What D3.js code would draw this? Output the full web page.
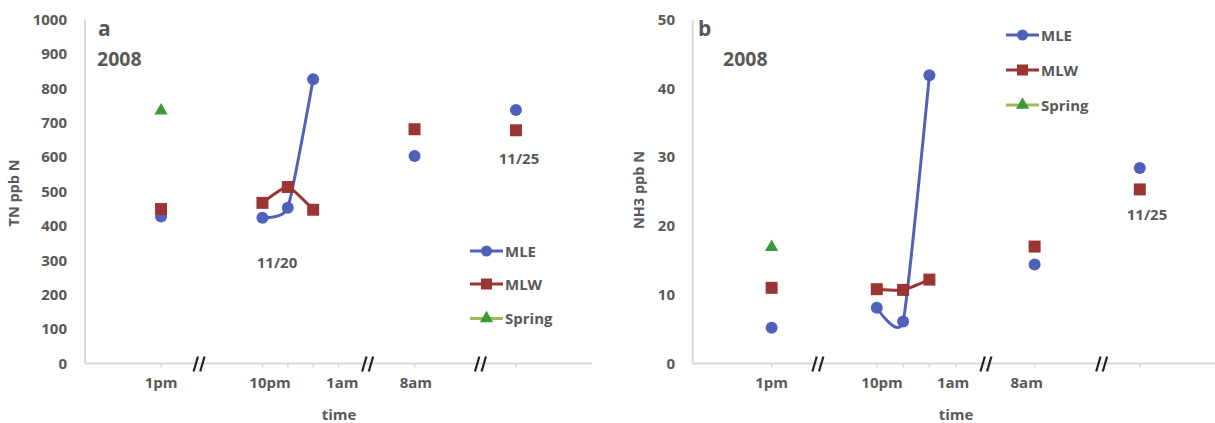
<!DOCTYPE html>
<html>
<head>
<meta charset="utf-8">
<script src="https://cdn.jsdelivr.net/npm/d3@7"></script>
<style>
  html, body { margin: 0; padding: 0; background: #fff; }
  svg { display: block; }
  text { font-family: "Open Sans", sans-serif; font-weight: bold; fill: #595959; }
</style>
</head>
<body>
<svg id="chart" width="1215" height="423"></svg>
<script>
// Sampling slots along the time axis (11/20 afternoon, overnight, next morning, 11/25)
const sampleNames = ["1pm", "10pm", "11pm", "12am", "8am", "11/25"];
const sampleSlots = [3, 7, 8, 9, 13, 17];
const tickSlots = [3, 7, 8, 9, 10, 13, 17];
const tickLabels = ["1pm", "10pm", "1am", "8am"];

// Total nitrogen (ppb N)
const tnMLE = [427, 424, 453, 826, 603, 737];
const tnMLW = [449, 467, 513, 447, 681, 678];
const tnSpring = [735, null, null, null, null, null];

// Ammonia (ppb N)
const nh3MLE = [5.2, 8.1, 6.1, 41.9, 14.4, 28.4];
const nh3MLW = [11.0, 10.8, 10.7, 12.2, 17.0, 25.3];
const nh3Spring = [16.9, null, null, null, null, null];

// Overnight run drawn as a connected, smoothed line
const overnight = [1, 2, 3];

const yTicksTN = [0, 100, 200, 300, 400, 500, 600, 700, 800, 900, 1000];
const yTicksNH3 = [0, 10, 20, 30, 40, 50];

const colors = { MLE: "#5061bb", MLW: "#9a3533", Spring: "#3b9b36", SpringLine: "#9bbb59" };

const svg = d3.select("#chart");

function markerPath(kind, size) {
  if (kind === "MLE") return d3.symbol(d3.symbolCircle, size * size * Math.PI / 4)();
  if (kind === "MLW") return d3.symbol(d3.symbolSquare, size * size)();
  return d3.symbol(d3.symbolTriangle, size * size * 0.45)();
}

function panel(cfg) {
  const g = svg.append("g");
  const x = d3.scaleLinear().domain([0, 20]).range([cfg.x0, cfg.x1]);
  const y = d3.scaleLinear().domain([0, cfg.yMax]).range([363.5, 19.5]);

  // value axis
  g.append("line").attr("x1", cfg.x0).attr("x2", cfg.x0).attr("y1", y(cfg.yMax)).attr("y2", y(0))
    .attr("stroke", "#d9d9d9").attr("stroke-width", 2);
  const yAxis = d3.axisLeft(y).tickValues(cfg.yTicks).tickFormat(d3.format("d")).tickSize(0).tickPadding(0);
  const ya = g.append("g").attr("transform", `translate(${cfg.yLabelX},0)`).call(yAxis);
  ya.select(".domain").remove();
  ya.selectAll("text").attr("font-size", 15).attr("fill", "#595959")
    .attr("font-family", "'Open Sans', sans-serif").attr("font-weight", "bold");

  // time axis
  g.append("line").attr("x1", cfg.x0).attr("x2", cfg.x1).attr("y1", y(0)).attr("y2", y(0))
    .attr("stroke", "#d9d9d9").attr("stroke-width", 2);
  g.selectAll(".xtick").data(tickSlots).join("line")
    .attr("x1", d => x(d)).attr("x2", d => x(d)).attr("y1", y(0)).attr("y2", y(0) + 4)
    .attr("stroke", "#d9d9d9").attr("stroke-width", 1.5);
  g.selectAll(".xlab").data(tickLabels).join("text")
    .attr("x", (d, i) => x(cfg.labelSlots[i])).attr("y", 388)
    .attr("text-anchor", "middle").attr("font-size", 15).text(d => d);

  // axis breaks
  cfg.breaks.forEach(b => {
    const bx = x(b);
    [-3.3, 3.3].forEach(dx => {
      g.append("line").attr("x1", bx + dx - 2.2).attr("y1", y(0) + 8).attr("x2", bx + dx + 2.2).attr("y2", y(0) - 7)
        .attr("stroke", "#222").attr("stroke-width", 2.2);
    });
  });

  // axis titles
  g.append("text").attr("transform", `translate(${cfg.titleX},${cfg.titleY}) rotate(-90)`)
    .attr("text-anchor", "middle").attr("font-size", 14.5).text(cfg.yTitle);
  g.append("text").attr("x", cfg.timeX).attr("y", 420).attr("text-anchor", "middle")
    .attr("font-size", 15).text("time");

  // series
  const series = [
    { key: "MLE", vals: cfg.MLE },
    { key: "MLW", vals: cfg.MLW },
    { key: "Spring", vals: cfg.Spring }
  ];
  const line = d3.line().x(i => x(sampleSlots[i])).curve(d3.curveCardinal.tension(0.5));
  series.slice(0, 2).forEach(s => {
    g.append("path").datum(overnight)
      .attr("d", line.y(i => y(s.vals[i])))
      .attr("fill", "none").attr("stroke", colors[s.key]).attr("stroke-width", 3);
  });
  series.forEach(s => {
    const size = s.key === "Spring" ? 13 : 12;
    g.selectAll(null).data(s.vals.map((v, i) => ({ v, i })).filter(d => d.v != null)).join("path")
      .attr("d", markerPath(s.key, size))
      .attr("transform", d => `translate(${x(sampleSlots[d.i])},${y(d.v)})`)
      .attr("fill", colors[s.key]);
  });

  // annotations
  g.append("text").attr("x", cfg.letterX).attr("y", 36).attr("font-size", 21).text(cfg.letter);
  g.append("text").attr("x", cfg.yearX).attr("y", 66).attr("font-size", 19.5).text("2008");
  cfg.notes.forEach(n => {
    g.append("text").attr("x", n.x).attr("y", n.y).attr("text-anchor", "middle")
      .attr("font-size", 15).text(n.t);
  });

  // legend
  ["MLE", "MLW", "Spring"].forEach((k, i) => {
    const ly = cfg.legendY[i];
    const lx = cfg.legendX;
    g.append("line").attr("x1", lx).attr("x2", lx + 33).attr("y1", ly).attr("y2", ly)
      .attr("stroke", k === "Spring" ? colors.SpringLine : colors[k]).attr("stroke-width", 3);
    g.append("path").attr("d", markerPath(k, k === "Spring" ? 13 : 11))
      .attr("transform", `translate(${lx + 16.5},${ly})`).attr("fill", colors[k]);
    g.append("text").attr("x", lx + 35).attr("y", ly + 5.5).attr("font-size", 15).text(k);
  });
}

panel({
  x0: 85, x1: 592, yMax: 1000, yTicks: yTicksTN, yLabelX: 67,
  labelSlots: [3, 7.3, 10.15, 13.05], breaks: [4.5, 11.15, 15.6],
  yTitle: "TN ppb N", titleX: 19, titleY: 193, timeX: 339,
  MLE: tnMLE, MLW: tnMLW, Spring: tnSpring,
  letter: "a", letterX: 98, yearX: 97,
  notes: [{ t: "11/20", x: 277, y: 268 }, { t: "11/25", x: 519, y: 164 }],
  legendX: 470, legendY: [251, 284, 318.5]
});

panel({
  x0: 692.7, x1: 1218.7, yMax: 50, yTicks: yTicksNH3, yLabelX: 675,
  labelSlots: [3, 7.2, 9.9, 12.7], breaks: [4.76, 11.15, 15.55],
  yTitle: "NH3 ppb N", titleX: 644, titleY: 190, timeX: 956,
  MLE: nh3MLE, MLW: nh3MLW, Spring: nh3Spring,
  letter: "b", letterX: 698, yearX: 723,
  notes: [{ t: "11/25", x: 1147, y: 220 }],
  legendX: 1006, legendY: [35, 70, 105]
});
</script>
</body>
</html>
